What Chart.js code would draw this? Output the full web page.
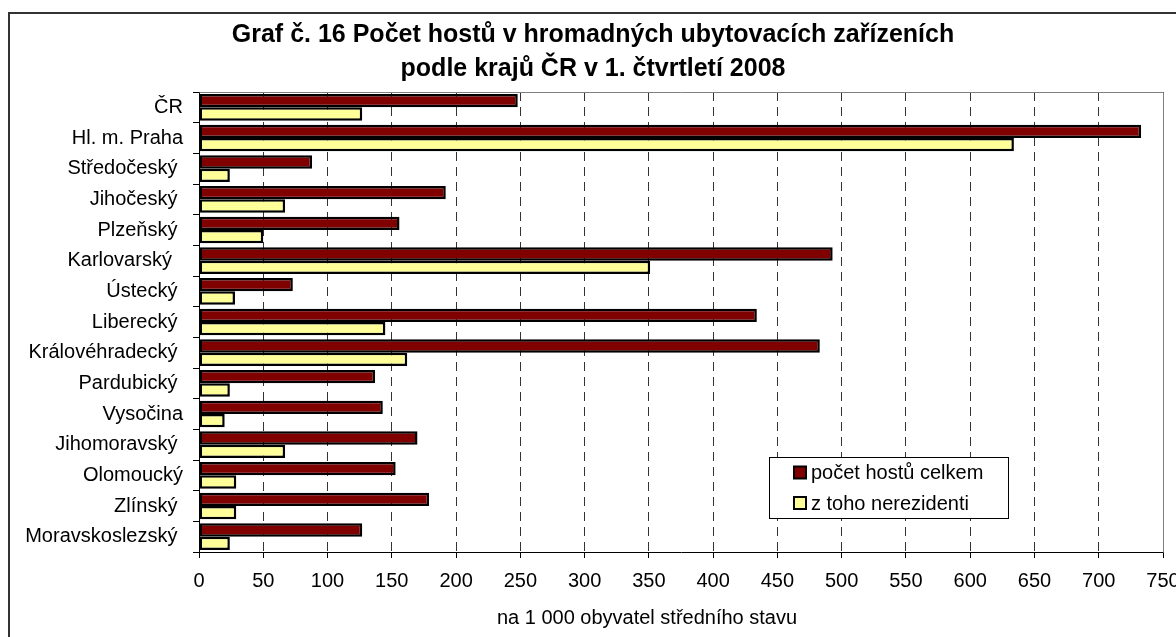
<!DOCTYPE html>
<html>
<head>
<meta charset="utf-8">
<title>Graf č. 16</title>
<script src="https://cdn.jsdelivr.net/npm/chart.js@4/dist/chart.umd.min.js"></script>
<style>
  html, body { margin: 0; padding: 0; background: #fff; }
  canvas { display: block; }
</style>
</head>
<body>
<canvas id="chart-hoste" width="1176" height="637"></canvas>
<script>
// kraje (some labels keep their trailing spaces, as in the source sheet)
var kraje = ['ČR', 'Hl. m. Praha', 'Středočeský ', 'Jihočeský ', 'Plzeňský ', 'Karlovarský  ',
    'Ústecký ', 'Liberecký ', 'Královéhradecký ', 'Pardubický ', 'Vysočina', 'Jihomoravský ',
    'Olomoucký', 'Zlínský ', 'Moravskoslezský '];
var hosteCelkem = [248, 733, 88, 192, 156, 493, 73, 434, 483, 137, 143, 170, 153, 179, 127];
var nerezidenti = [127, 634, 24, 67, 50, 351, 28, 145, 162, 24, 20, 67, 29, 29, 24];
var xTicks = [0, 50, 100, 150, 200, 250, 300, 350, 400, 450, 500, 550, 600, 650, 700, 750];

var titleLines = ['Graf č. 16 Počet hostů v hromadných ubytovacích zařízeních',
    'podle krajů ČR v 1. čtvrtletí 2008'];
var xTitle = 'na 1 000 obyvatel středního stavu';

var FONT = "'Liberation Sans', Arial, sans-serif";

(function(){
    // title, axis title, legend box and frames drawn by hand (Excel-like placement)
    var decor = {
        id: 'decor',
        beforeDatasetsDraw: function(chart){
            var ctx = chart.ctx, a = chart.chartArea;
            ctx.save();
            ctx.strokeStyle = '#808080';
            ctx.lineWidth = 1;
            ctx.beginPath();
            ctx.moveTo(Math.round(a.left) + 0.5, Math.round(a.top) + 0.5);
            ctx.lineTo(Math.round(a.right) + 0.5, Math.round(a.top) + 0.5);
            ctx.lineTo(Math.round(a.right) + 0.5, Math.round(a.bottom) + 0.5);
            ctx.stroke();
            ctx.restore();
        },
        afterDraw: function(chart){
            var ctx = chart.ctx;
            ctx.save();
            // outer chart border (runs off the canvas right/bottom)
            ctx.strokeStyle = '#333';
            ctx.lineWidth = 2;
            ctx.beginPath();
            ctx.moveTo(9, 637);
            ctx.lineTo(9, 13);
            ctx.lineTo(1176, 13);
            ctx.stroke();

            // chart title
            ctx.fillStyle = '#000';
            ctx.textAlign = 'center';
            ctx.textBaseline = 'alphabetic';
            ctx.font = 'bold 25px ' + FONT;
            ctx.fillText(titleLines[0], 593, 42);
            ctx.fillText(titleLines[1], 593, 76);

            // x axis title
            ctx.font = '20px ' + FONT;
            ctx.textBaseline = 'middle';
            ctx.fillText(xTitle, 647, 618);

            // legend
            var lx = 769.5, ly = 457.5, lw = 239, lh = 61;
            ctx.fillStyle = '#fff';
            ctx.fillRect(lx, ly, lw, lh);
            ctx.strokeStyle = '#000';
            ctx.lineWidth = 1;
            ctx.strokeRect(lx, ly, lw, lh);
            ctx.textAlign = 'left';
            ctx.font = '20px ' + FONT;
            chart.data.datasets.forEach(function(ds, i){
                var cy = 472.5 + i * 30.5;
                ctx.fillStyle = ds.backgroundColor;
                ctx.fillRect(794, cy - 6, 12, 12);
                ctx.lineWidth = 2;
                ctx.strokeRect(794, cy - 6, 12, 12);
                ctx.fillStyle = '#000';
                ctx.fillText(ds.label, 811, cy + 1);
            });
            ctx.restore();
        }
    };

    var canvas = document.getElementById('chart-hoste');
    var ctx = canvas.getContext('2d');
    Chart.defaults.font.family = FONT;
    Chart.defaults.color = '#000';

    new Chart(ctx, {
        type: 'bar',
        data: {
            labels: kraje,
            datasets: [
                { label: 'počet hostů celkem', data: hosteCelkem, backgroundColor: '#800000',
                  borderColor: '#000', borderWidth: 2.5, borderSkipped: false,
                  categoryPercentage: 0.87, barPercentage: 1.0 },
                { label: 'z toho nerezidenti', data: nerezidenti, backgroundColor: '#FFFF99',
                  borderColor: '#000', borderWidth: 2.5, borderSkipped: false,
                  categoryPercentage: 0.87, barPercentage: 1.0 }
            ]
        },
        options: {
            indexAxis: 'y',
            responsive: false,
            animation: false,
            layout: { padding: { top: 92, right: 13, left: 0, bottom: 0 } },
            plugins: { legend: { display: false }, title: { display: false }, tooltip: { enabled: false } },
            scales: {
                x: {
                    min: 0, max: 750,
                    afterBuildTicks: function(s){ s.ticks = xTicks.map(function(v){ return { value: v }; }); },
                    afterFit: function(s){ s.height = 85; s.paddingLeft = 0; s.paddingRight = 0; },
                    ticks: { font: { size: 20 }, color: '#000', padding: 11, maxRotation: 0, autoSkip: false },
                    grid: { color: '#333', lineWidth: 1, tickLength: 6, tickColor: '#000' },
                    border: { display: true, color: '#000', width: 1, dash: [9, 6] }
                },
                y: {
                    afterFit: function(s){ s.width = 199; s.paddingTop = 0; s.paddingBottom = 0; },
                    ticks: { font: { size: 20 }, color: '#000', padding: 10, autoSkip: false },
                    grid: { drawOnChartArea: false, color: '#000', tickLength: 6, offset: true },
                    border: { display: true, color: '#000', width: 1 }
                }
            }
        },
        plugins: [decor]
    });
})();
</script>
</body>
</html>
